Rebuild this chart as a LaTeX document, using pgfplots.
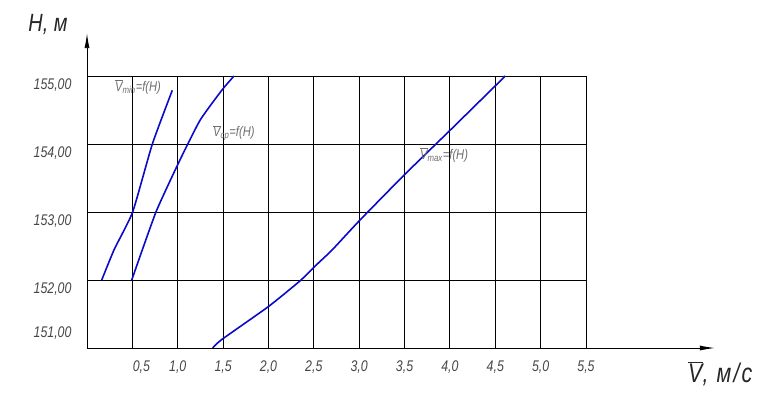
\documentclass[border=0pt]{standalone}
\usepackage{pgfplots}
\pgfplotsset{compat=1.18}
\usepackage{fontspec}
\setmainfont{Liberation Sans}[FakeStretch=0.8]
\usetikzlibrary{arrows.meta}
\definecolor{curve}{RGB}{10,10,200}
\definecolor{lbl}{RGB}{70,70,70}
\definecolor{clbl}{RGB}{110,110,110}
\newcommand\ovV{\ensuremath{\overline{\mbox{\itshape V}}}}
\begin{document}
\begin{tikzpicture}
\begin{axis}[
  name=ax,
  scale only axis,
  width=499bp, height=272bp,
  xmin=0, xmax=5.5, ymin=151, ymax=155,
  clip=false,
  axis line style={draw=none},
  tick style={draw=none},
  grid=major,
  grid style={black, line width=0.9bp},
  xtick={0.5,1,...,5.5},
  xticklabels={{\hspace{18bp}0,5},{1,0},{1,5},{2,0},{2,5},{3,0},{3,5},{4,0},{4,5},{5,0},{5,5}},
  ytick={152,153,154,155},
  yticklabels={{152,00},{153,00},{154,00},{155,00}},
  /pgf/number format/assume math mode=true,
  xticklabel style={anchor=center, yshift=-19bp, font=\fontsize{15.5}{16}\selectfont\itshape, text=lbl},
  yticklabel style={anchor=east, xshift=-12bp, yshift=-9bp, font=\fontsize{15.5}{16}\selectfont\itshape, text=lbl},
  extra y ticks={151},
  extra y tick labels={151{,}00},
  extra y tick style={grid=none, yticklabel style={yshift=24bp}},
]
\addplot[curve, line width=1.6bp, smooth, tension=0.3] coordinates {
 (0.162,152.00) (0.30,152.45) (0.503,153.00) (0.72,154.00) (0.94,154.79)};
\addplot[curve, line width=1.6bp, smooth, tension=0.3] coordinates {
 (0.493,152.00) (0.76,153.00) (1.026,153.77) (1.246,154.35) (1.485,154.79) (1.62,155.00)};
\addplot[curve, line width=1.6bp, smooth, tension=0.3] coordinates {
 (1.385,151.00) (1.48,151.12) (2.0,151.61) (2.35,151.99) (2.51,152.2) (2.70,152.44) (3.0,152.87) (3.5,153.55) (4.0,154.2) (4.61,155.00)};
% axes with arrows
\draw[black, line width=0.9bp, -{Latex[length=15bp,width=5bp]}] (axis cs:0,151) -- (axis cs:6.92,151);
\draw[black, line width=0.9bp, -{Latex[length=15bp,width=5bp]}] (axis cs:0,151) -- (axis cs:0,155.63);
% curve labels
\node[anchor=west, text=clbl, font=\fontsize{14}{15}\selectfont\itshape, inner sep=0pt] at (axis cs:0.309,154.84) {\ovV\textsubscript{min}=f(H)};
\node[anchor=west, text=clbl, font=\fontsize{14}{15}\selectfont\itshape, inner sep=0pt] at (axis cs:1.389,154.16) {\ovV\textsubscript{ср}=f(H)};
\node[anchor=west, text=clbl, font=\fontsize{14}{15}\selectfont\itshape, inner sep=0pt] at (axis cs:3.67,153.84) {\ovV\textsubscript{max}=f(H)};
% axis titles
\node[anchor=center, text=black!85, font=\fontsize{25}{26}\selectfont\itshape, inner sep=0pt] at (axis cs:-0.43,155.76) {H, м};
\node[anchor=center, text=black!85, font=\fontsize{27}{28}\selectfont\itshape\addfontfeatures{LetterSpace=8}, inner sep=0pt] at (axis cs:6.98,150.62) {\ovV, м/с};
\coordinate (bl) at (axis cs:-0.959,150.118);
\coordinate (tr) at (axis cs:7.638,156.118);
\end{axis}
\pgfresetboundingbox
\path[use as bounding box] (bl) rectangle (tr);
\end{tikzpicture}
\end{document}
